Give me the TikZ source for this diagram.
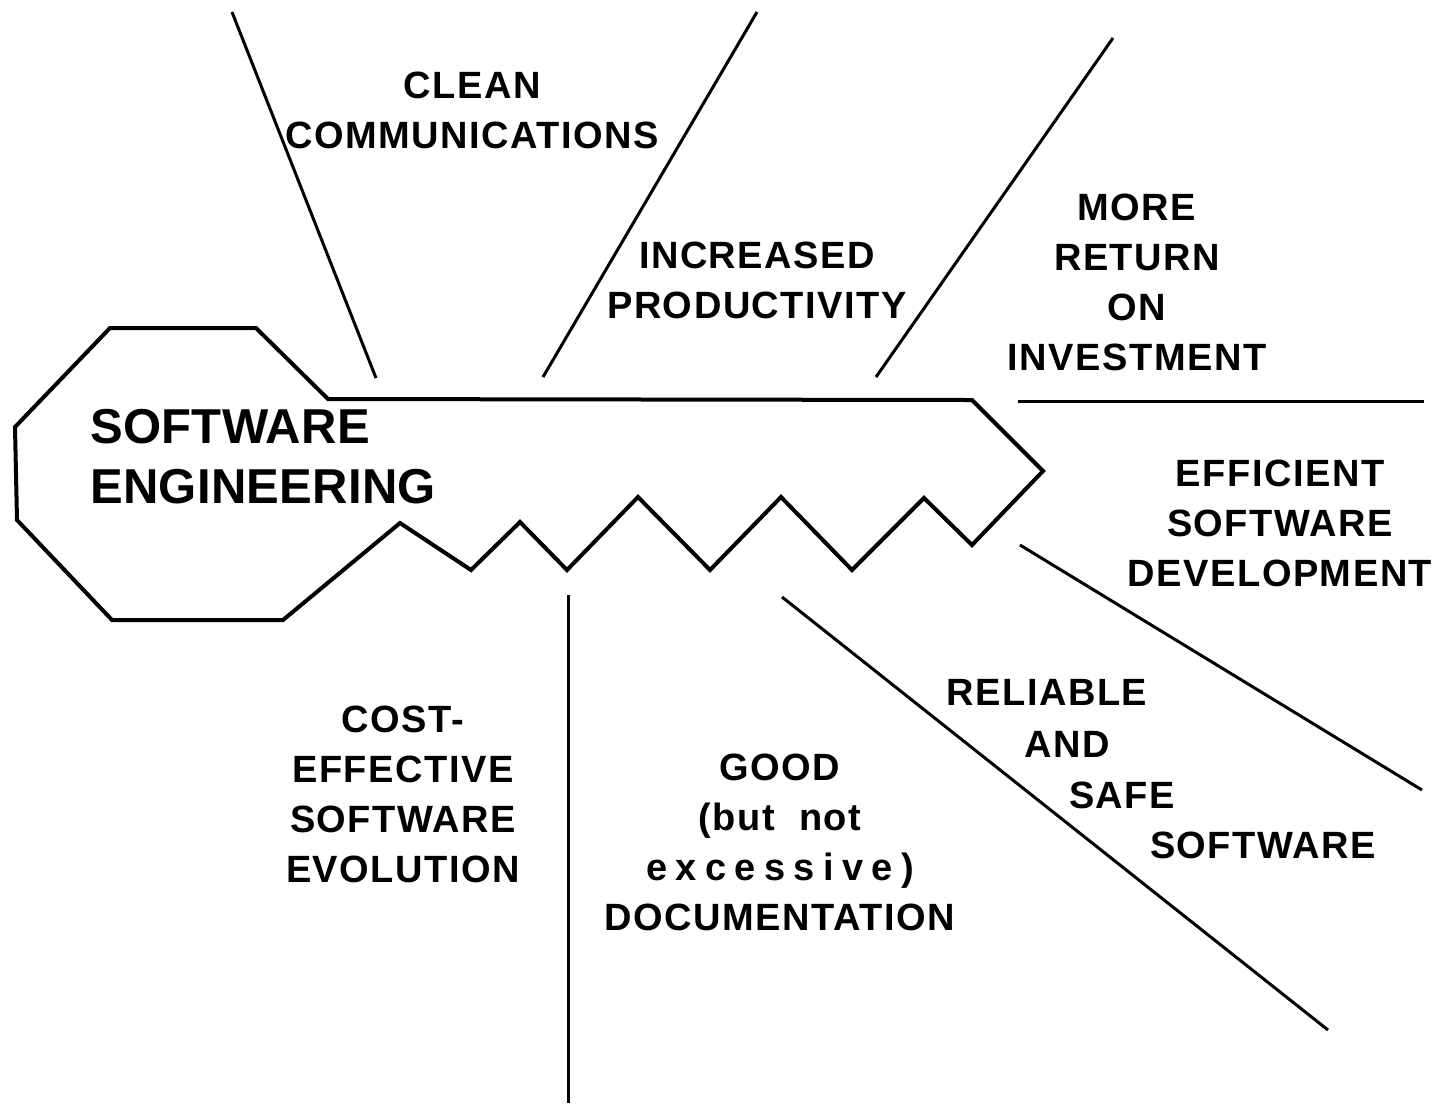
\documentclass[tikz,border=0pt]{standalone}
\usepackage{fontspec}
\setmainfont{Liberation Sans}[LetterSpace=4]
\usetikzlibrary{positioning}

\tikzset{
  benefit/.style={draw=none,fill=none,inner sep=0pt,align=center,
    font=\fontsize{19}{25}\selectfont\bfseries},
  keytitle/.style={draw=none,fill=none,inner sep=0pt,align=left,
    font=\fontsize{24.5}{30}\selectfont\bfseries\addfontfeatures{LetterSpace=0.5}},
  spoke/.style={line width=1.5pt},
  keyline/.style={line width=2pt,line join=miter}
}

\begin{document}
\begin{tikzpicture}[x=0.5pt,y=-0.5pt]
			\useasboundingbox (0,0) rectangle (1434,1105);

			% the key
			\draw[keyline] (110,328) -- (256,328) -- (328,399) -- (972,400) -- (1043,471)
			  -- (972,545) -- (924,498) -- (852,570) -- (781,497) -- (710,570) -- (638,497)
			  -- (567,570) -- (520,522) -- (471,570) -- (400,523) -- (283,620) -- (112,620)
			  -- (17,520) -- (15,427) -- cycle;
			\node[keytitle, anchor=west]  (se)  at (90,457) {SOFTWARE\\ENGINEERING};

			% spoke ends
			\coordinate (a1) at (232,12);   \coordinate (a2) at (376,378);
			\coordinate (b1) at (757,12);   \coordinate (b2) at (543,377);
			\coordinate (c1) at (1113,38);  \coordinate (c2) at (876,377);
			\coordinate (d1) at (1018,401); \coordinate (d2) at (1424,401);
			\coordinate (e1) at (1020,545); \coordinate (e2) at (1422,790);
			\coordinate (f1) at (782,597);  \coordinate (f2) at (1328,1030);
			\coordinate (g1) at (568,595);  \coordinate (g2) at (568,1103);

			\draw[spoke] (a1) -- (a2);
			\draw[spoke] (b1) -- (b2);
			\draw[spoke] (c1) -- (c2);
			\draw[spoke] (d1) -- (d2);
			\draw[spoke] (e1) -- (e2);
			\draw[spoke] (f1) -- (f2);
			\draw[spoke] (g1) -- (g2);

			% the benefits
			\node[benefit]  (clean)  at (472,110)  {CLEAN\\COMMUNICATIONS};
			\node[benefit]  (prod)   at (757,280)  {INCREASED\\PRODUCTIVITY};
			\node[benefit]  (roi)    at (1137,282) {MORE\\RETURN\\ON\\INVESTMENT};
			\node[benefit]  (eff)    at (1280,523) {EFFICIENT\\SOFTWARE\\DEVELOPMENT};
			\node[benefit]  (cost)   at (403,794)  {COST-\\EFFECTIVE\\SOFTWARE\\EVOLUTION};
			\node[benefit]  (doc)    at (780,842)  {GOOD\\(but\ \ not\\{\addfontfeatures{LetterSpace=22}excessive)}\\DOCUMENTATION};

			\node[benefit]  (rel)    at (1047,692) {RELIABLE};
			\node[benefit]  (and)    at (1067,744) {AND};
			\node[benefit]  (safe)   at (1122,795) {SAFE};
			\node[benefit]  (safesw) at (1263,845) {SOFTWARE};
		\end{tikzpicture}
\end{document}
